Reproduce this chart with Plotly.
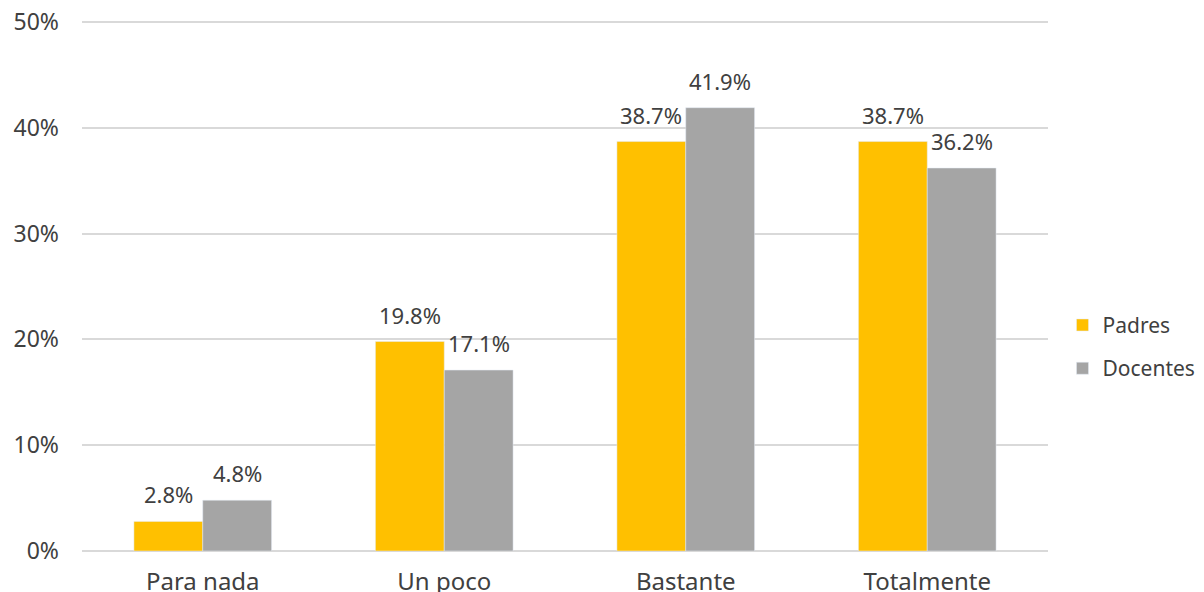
import plotly.graph_objects as go

categories = ["Para nada", "Un poco", "Bastante", "Totalmente"]
padres = [2.8, 19.8, 38.7, 38.7]
docentes = [4.8, 17.1, 41.9, 36.2]
y_ticks = [0, 10, 20, 30, 40, 50]
y_tick_labels = ["0%", "10%", "20%", "30%", "40%", "50%"]

FONT = "Noto Sans"
TXT = "#404040"
FS = 22
BARGAP = 0.43

fig = go.Figure()
fig.add_trace(go.Bar(x=categories, y=padres, name="Padres",
                     marker_color="#FFC000", legendgroup="a"))
fig.add_trace(go.Bar(x=categories, y=docentes, name="Docentes",
                     marker_color="#A5A5A5", legendgroup="b"))

# page body has an 8px offset; margins compensate for it
W, H = 1204, 592
L, R, T, B = 74, 164, 3, 49
plot_w = W - L - R
plot_h = H - T - B
y_top = 50 * plot_h / 529.0  # keeps 50% gridline at the same place

half_bar = plot_w / len(categories) * (1 - BARGAP) / 4
for vals, sign in ((padres, -1), (docentes, 1)):
    for c, v in zip(categories, vals):
        fig.add_annotation(x=c, y=v, text=f"{v:.1f}%", showarrow=False,
                           xanchor="center", yanchor="bottom",
                           xshift=sign * half_bar, yshift=10,
                           font=dict(size=FS, color=TXT, family=FONT))

fig.update_layout(
    width=W, height=H,
    margin=dict(l=L, r=R, t=T, b=B, autoexpand=False),
    paper_bgcolor="white", plot_bgcolor="white",
    barmode="group", bargap=BARGAP, bargroupgap=0,
    font=dict(family=FONT, size=FS, color=TXT),
    showlegend=True,
    legend=dict(x=1.015, xanchor="left", y=0.386 * 529 / plot_h, yanchor="middle",
                font=dict(size=21, color=TXT, family=FONT),
                tracegroupgap=13, itemwidth=30),
)
fig.update_yaxes(range=[0, y_top], tickvals=y_ticks, ticktext=y_tick_labels,
                 showgrid=True, gridcolor="#D9D9D9", gridwidth=1.5,
                 zeroline=True, zerolinecolor="#D9D9D9", zerolinewidth=1.5,
                 ticks="", ticklabelstandoff=22, automargin=False,
                 ticklabeloverflow="allow",
                 tickfont=dict(size=23, color=TXT, family=FONT))
fig.update_xaxes(showline=False, ticks="", ticklabelstandoff=14, automargin=False,
                 ticklabeloverflow="allow",
                 tickfont=dict(size=24, color=TXT, family=FONT))

fig.write_html("out.html")
